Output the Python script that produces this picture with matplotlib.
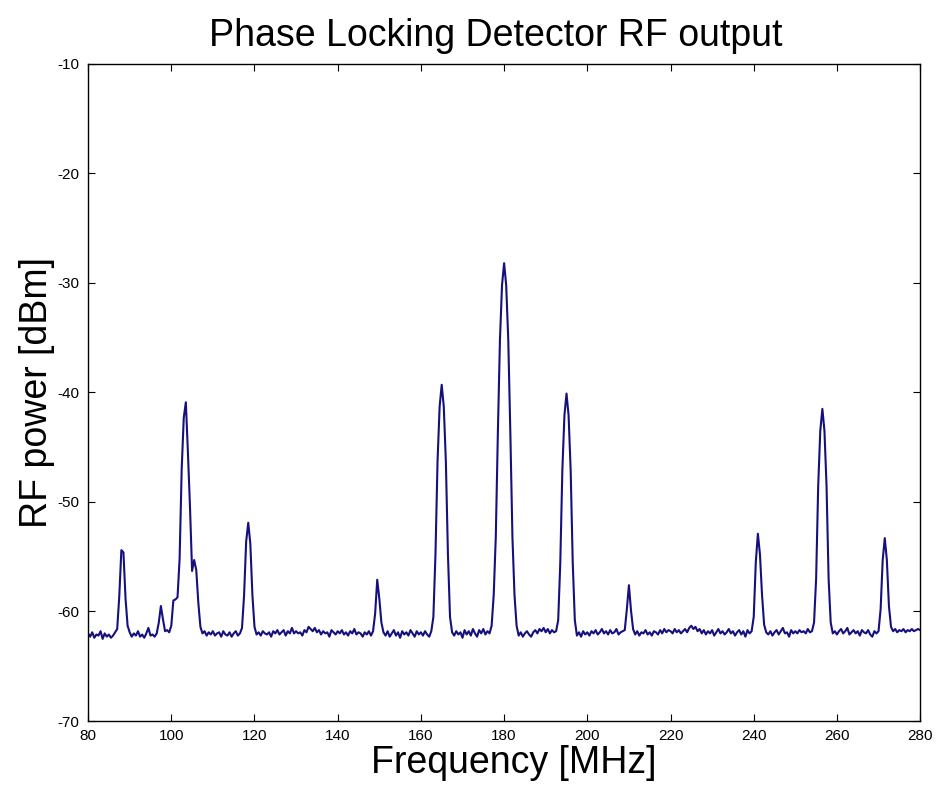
import numpy as np
import matplotlib
matplotlib.use("Agg")
import matplotlib.pyplot as plt

plt.rcParams['font.family'] = ['Liberation Sans', 'DejaVu Sans']
plt.rcParams['axes.unicode_minus'] = False

######################################
## data ##############################
######################################
# analyser sweep: 80 .. 280 MHz, one point every 0.5 MHz
f_start = 80.0
f_stop = 280.0
f_step = 0.5

# RF power [dBm], one row per 10 MHz
power_dbm = [
    # 80 - 89.5
    -62.0, -62.3, -61.9, -62.4, -62.1, -62.2, -61.8, -62.5, -62.0, -62.3,
    -62.1, -62.4, -62.2, -61.9, -61.6, -58.6, -54.4, -54.6, -58.8, -61.3,
    # 90 - 99.5
    -61.9, -62.3, -62.0, -62.2, -61.8, -62.3, -62.1, -62.4, -62.0, -61.5,
    -62.2, -62.1, -62.3, -62.0, -61.0, -59.5, -60.7, -61.8, -61.7, -61.9,
    # 100 - 109.5
    -61.3, -59.0, -58.9, -58.7, -55.2, -47.0, -42.3, -40.9, -45.5, -50.5,
    -56.3, -55.3, -56.2, -59.2, -61.4, -62.0, -61.8, -62.2, -61.9, -62.1,
    # 110 - 119.5
    -61.8, -62.2, -62.0, -61.9, -62.3, -61.8, -62.1, -62.2, -61.9, -62.3,
    -62.0, -61.8, -62.2, -62.0, -61.5, -58.5, -53.6, -51.9, -53.8, -58.5,
    # 120 - 129.5
    -61.4, -62.1, -61.9, -62.2, -61.8, -62.0, -62.1, -61.9, -62.3, -61.8,
    -62.0, -61.7, -62.1, -61.9, -61.7, -62.2, -61.8, -62.0, -61.5, -62.0,
    # 130 - 139.5
    -61.8, -62.0, -61.9, -62.2, -61.7, -61.9, -61.4, -61.6, -61.8, -61.5,
    -61.9, -61.7, -62.1, -61.8, -62.0, -61.9, -62.3, -61.7, -61.9, -62.1,
    # 140 - 149.5
    -61.8, -62.0, -61.7, -62.1, -61.9, -62.2, -61.8, -62.0, -61.6, -62.1,
    -61.9, -62.0, -62.3, -61.9, -62.1, -61.8, -62.2, -61.8, -60.2, -57.1,
    # 150 - 159.5
    -58.8, -61.0, -61.9, -62.2, -61.8, -62.3, -62.0, -61.7, -62.2, -61.9,
    -62.4, -61.8, -62.1, -61.9, -62.2, -61.7, -62.0, -62.3, -61.8, -62.1,
    # 160 - 169.5
    -61.9, -62.2, -61.8, -62.1, -62.3, -61.8, -60.5, -54.8, -46.3, -41.3,
    -39.3, -41.3, -46.3, -54.8, -60.5, -61.9, -62.2, -61.8, -62.1, -61.9,
    # 170 - 179.5
    -62.4, -61.7, -62.1, -61.8, -62.2, -61.6, -62.0, -62.3, -61.7, -62.0,
    -61.6, -62.1, -61.8, -62.0, -61.3, -58.5, -53.2, -43.7, -35.2, -30.2,
    # 180 - 189.5
    -28.2, -30.2, -35.2, -43.7, -53.2, -58.5, -61.3, -62.2, -61.9, -62.3,
    -62.0, -61.8, -62.1, -62.3, -61.9, -61.7, -62.0, -61.6, -61.8, -61.5,
    # 190 - 199.5
    -61.9, -61.6, -62.0, -61.7, -61.9, -61.8, -60.8, -55.6, -47.1, -42.1,
    -40.1, -42.1, -47.1, -55.6, -60.8, -62.2, -61.9, -62.3, -61.8, -62.1,
    # 200 - 209.5
    -61.9, -62.2, -61.8, -62.0, -61.7, -62.1, -61.9, -61.6, -62.0, -61.8,
    -62.1, -61.7, -62.0, -61.9, -61.6, -62.1, -61.9, -61.8, -61.7, -59.8,
    # 210 - 219.5
    -57.6, -59.9, -61.6, -62.1, -61.8, -62.2, -61.9, -62.0, -61.7, -62.1,
    -61.9, -62.2, -61.8, -61.9, -62.1, -61.7, -62.0, -61.6, -61.9, -61.7,
    # 220 - 229.5
    -61.8, -62.0, -61.6, -61.9, -61.7, -62.0, -61.8, -61.6, -61.9, -61.5,
    -61.3, -61.6, -61.4, -61.8, -61.6, -62.0, -61.7, -62.1, -61.8, -62.0,
    # 230 - 239.5
    -61.7, -62.2, -61.9, -61.6, -62.0, -61.8, -62.1, -61.9, -61.6, -62.0,
    -61.8, -62.2, -61.9, -61.7, -62.1, -61.8, -62.3, -61.7, -62.0, -61.8,
    # 240 - 249.5
    -60.5, -55.5, -52.9, -54.8, -58.5, -61.2, -61.9, -62.1, -61.8, -62.2,
    -61.9, -61.7, -62.1, -61.8, -61.5, -62.0, -61.9, -62.3, -61.7, -62.0,
    # 250 - 259.5
    -61.8, -62.0, -61.7, -61.9, -61.8, -62.0, -61.6, -61.9, -61.8, -61.0,
    -57.0, -48.5, -43.5, -41.5, -43.5, -48.5, -57.0, -61.0, -62.0, -61.8,
    # 260 - 269.5
    -62.1, -61.8, -61.6, -62.0, -61.8, -61.5, -62.1, -61.9, -61.7, -62.0,
    -61.8, -62.2, -61.7, -61.9, -62.0, -61.7, -62.1, -62.3, -61.8, -62.0,
    # 270 - 280
    -61.8, -59.8, -55.3, -53.3, -55.3, -59.5, -61.4, -61.8, -61.6, -61.9,
    -61.7, -61.8, -61.6, -61.9, -61.7, -61.8, -61.6, -61.8, -61.7, -61.6,
    -61.7,
]

x_ticks = [80, 100, 120, 140, 160, 180, 200, 220, 240, 260, 280]
y_ticks = [-70, -60, -50, -40, -30, -20, -10]

n_points = int(round((f_stop - f_start) / f_step)) + 1
freq_mhz = np.linspace(f_start, f_stop, n_points)

######################################
## plot ##############################
######################################
fig = plt.figure(figsize=(9.37, 7.88), dpi=100)
ax = fig.add_axes([0.094, 0.085, 0.888, 0.834])

ax.plot(freq_mhz, power_dbm, color='#16107e', linewidth=1.5)

ax.set_xlim(f_start, f_stop)
ax.set_ylim(-70, -10)
ax.set_xticks(x_ticks)
ax.set_yticks(y_ticks)
ax.tick_params(direction='in', length=5, width=0.8, top=True, right=True,
               labelsize=11, pad=6)
for sp in ax.spines.values():
    sp.set_linewidth(1.0)

ax.set_title("Phase Locking Detector RF output", fontsize=27, pad=13, x=0.49)
ax.set_xlabel("Frequency [MHz]", fontsize=27, labelpad=0)
ax.xaxis.set_label_coords(0.512, -0.037, transform=None)
ax.xaxis.label.set_transform(ax.transAxes)
ax.xaxis.label.set_verticalalignment('top')
ax.set_ylabel("RF power [dBm]", fontsize=27, labelpad=2)

fig.savefig("out.png", dpi=100)
